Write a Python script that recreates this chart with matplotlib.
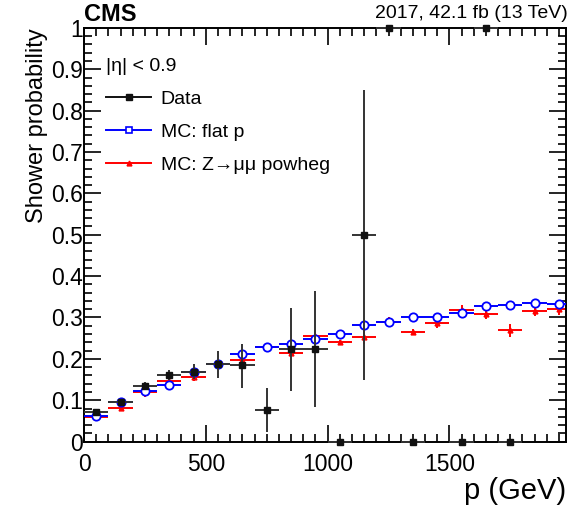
import matplotlib
matplotlib.use("Agg")
import matplotlib.pyplot as plt
from matplotlib.lines import Line2D
from matplotlib.ticker import MultipleLocator
import numpy as np

plt.rcParams['font.family'] = ['Liberation Sans', 'DejaVu Sans']

# bin centres (GeV), 100 GeV bins
p_data = [50, 150, 250, 350, 450, 550, 650, 750, 850, 950, 1050, 1150, 1250, 1350, 1550, 1650, 1750]
prob_data = [0.072, 0.095, 0.134, 0.162, 0.169, 0.187, 0.185, 0.076, 0.223, 0.223, 0.0, 0.50, 1.0, 0.0, 0.0, 1.0, 0.0]
err_lo_data = [0.006, 0.006, 0.010, 0.012, 0.018, 0.033, 0.055, 0.052, 0.10, 0.14, 0.0, 0.35, 0.0, 0.0, 0.0, 0.0, 0.0]
err_hi_data = [0.006, 0.006, 0.010, 0.012, 0.018, 0.033, 0.050, 0.053, 0.10, 0.14, 0.0, 0.35, 0.0, 0.0, 0.0, 0.0, 0.0]

p_mc = [50, 150, 250, 350, 450, 550, 650, 750, 850, 950, 1050, 1150, 1250, 1350, 1450, 1550, 1650, 1750, 1850, 1950]
prob_flat = [0.061, 0.095, 0.122, 0.137, 0.169, 0.187, 0.211, 0.228, 0.235, 0.249, 0.259, 0.281, 0.288, 0.301,
             0.301, 0.311, 0.327, 0.329, 0.336, 0.332]
err_flat = [0.003, 0.003, 0.003, 0.003, 0.003, 0.003, 0.003, 0.003, 0.003, 0.003, 0.003, 0.003, 0.003, 0.003,
            0.003, 0.003, 0.003, 0.003, 0.003, 0.003]
prob_zmm = [0.059, 0.082, 0.120, 0.147, 0.155, 0.187, 0.197, 0.229, 0.215, 0.256, 0.240, 0.253, 0.288, 0.265,
            0.287, 0.319, 0.309, 0.269, 0.316, 0.320]
err_zmm = [0.005, 0.006, 0.012, 0.008, 0.008, 0.008, 0.010, 0.008, 0.010, 0.014, 0.006, 0.016, 0.012, 0.008,
           0.012, 0.012, 0.012, 0.015, 0.012, 0.015]

ytick_labels = ['0', '0.1', '0.2', '0.3', '0.4', '0.5', '0.6', '0.7', '0.8', '0.9', '1']
binhalf = 50

fig = plt.figure(figsize=(5.72, 5.07), dpi=100)
ax = fig.add_axes([0.147, 0.129, 0.843, 0.816])

ax.errorbar(p_mc, prob_zmm, xerr=binhalf, yerr=err_zmm, fmt='^', color='#ff0000', ms=3.5,
            elinewidth=1.4, capsize=0, zorder=2)
ax.errorbar(p_mc, prob_flat, xerr=binhalf, yerr=err_flat, fmt='o', color='#0000ff', mfc='white',
            mec='#0000ff', mew=1.3, ms=6, elinewidth=1.4, capsize=0, zorder=3)
ax.errorbar(p_data, prob_data, xerr=binhalf, yerr=[err_lo_data, err_hi_data], fmt='s', color='#111111',
            ecolor='#333333', ms=4.5, elinewidth=1.4, capsize=0, zorder=4, clip_on=False)

ax.set_xlim(0, 1980)
ax.set_ylim(0, 1)
ax.xaxis.set_major_locator(MultipleLocator(500))
ax.xaxis.set_minor_locator(MultipleLocator(50))
ax.yaxis.set_minor_locator(MultipleLocator(0.02))
ax.set_yticks(np.arange(0, 1.01, 0.1))
ax.set_yticklabels(ytick_labels)
ax.tick_params(which='both', direction='in', top=True, right=True, labelsize=16.5, width=1.2)
ax.tick_params(which='major', length=12)
ax.tick_params(axis='y', which='major', pad=1)
ax.tick_params(axis='x', which='major', pad=8)
ax.tick_params(which='minor', length=6)
for s in ax.spines.values():
    s.set_linewidth(1.4)

ax.set_xlabel('p (GeV)', fontsize=21, loc='right', labelpad=1)
ax.set_ylabel('Shower probability', fontsize=17, loc='top', labelpad=2)

fig.text(0.147, 0.958, 'CMS', fontsize=17, fontweight='bold', ha='left', va='baseline')
fig.text(0.992, 0.956, '2017, 42.1 fb (13 TeV)', fontsize=14, ha='right', va='bottom')

handles = [
    Line2D([], [], color='#111111', marker='s', ms=4.5, lw=1.4),
    Line2D([], [], color='#0000ff', marker='s', mfc='white', ms=5, mew=1.2, lw=1.4),
    Line2D([], [], color='#ff0000', marker='^', ms=3.5, lw=1.4),
]
labels = ['Data', 'MC: flat p', 'MC: Z\u2192\u03bc\u03bc powheg']
leg = ax.legend(handles, labels, loc='upper left', bbox_to_anchor=(0.01, 0.97), frameon=False,
                fontsize=14, title='|\u03b7| < 0.9', title_fontsize=14, alignment='left',
                handlelength=2.3, handletextpad=0.5, labelspacing=0.8)

fig.savefig('out.png', dpi=100)
